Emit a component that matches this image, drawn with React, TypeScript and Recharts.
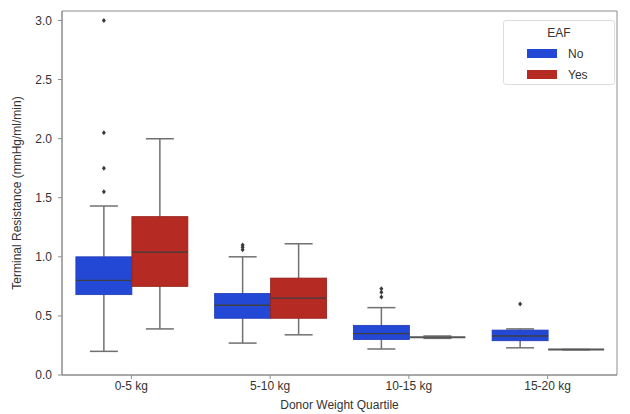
import React from 'react';
import { ComposedChart, Bar, XAxis, YAxis, Legend, ReferenceArea, Label } from 'recharts';

const categories = ['0-5 kg', '5-10 kg', '10-15 kg', '15-20 kg'];

// EAF = No
const noLow = [0.2, 0.27, 0.22, 0.23];
const noQ1 = [0.68, 0.48, 0.3, 0.29];
const noMedian = [0.8, 0.59, 0.35, 0.33];
const noQ3 = [1.0, 0.69, 0.42, 0.38];
const noHigh = [1.43, 1.0, 0.57, 0.39];
const noOutliers = [[3.0, 2.05, 1.75, 1.55], [1.1, 1.08, 1.06], [0.73, 0.7, 0.66], [0.6]];

// EAF = Yes
const yesLow = [0.39, 0.34, 0.31, 0.215];
const yesQ1 = [0.75, 0.48, 0.315, 0.215];
const yesMedian = [1.04, 0.65, 0.32, 0.215];
const yesQ3 = [1.34, 0.82, 0.325, 0.215];
const yesHigh = [2.0, 1.11, 0.33, 0.215];
const yesOutliers: number[][] = [[], [], [], []];

const yTicks = [0, 0.5, 1, 1.5, 2, 2.5, 3];
const yMax = 3.08;

const FONT = '"Liberation Sans", Arial, sans-serif';
const BLUE = '#2448d6';
const RED = '#b52a22';
const WHISKER = '#707070';
const MEDIAN = '#3e3e3e';

const topOf = (high: number[], out: number[][], i: number) => Math.max(high[i], ...out[i]);

const data = categories.map((category, i) => ({
  category,
  noTop: topOf(noHigh, noOutliers, i),
  yesTop: topOf(yesHigh, yesOutliers, i),
}));

// box + whiskers + fliers drawn inside the bar rectangle (bar runs 0..top)
const makeBox =
  (low: number[], q1: number[], med: number[], q3: number[], high: number[], out: number[][], fill: string, edge: string) =>
  (props: any) => {
    const { x, y, width, height, index } = props;
    const top = topOf(high, out, index);
    const yOf = (v: number) => y + height - (v / top) * height;
    const cx = x + width / 2;
    const boxTop = yOf(q3[index]);
    const boxH = yOf(q1[index]) - boxTop;
    const flat = boxH < 2;
    return (
      <g>
        <line x1={cx} x2={cx} y1={yOf(high[index])} y2={boxTop} stroke={WHISKER} strokeWidth={1.5} />
        <line x1={cx} x2={cx} y1={yOf(q1[index])} y2={yOf(low[index])} stroke={WHISKER} strokeWidth={1.5} />
        <line x1={cx - width / 4} x2={cx + width / 4} y1={yOf(high[index])} y2={yOf(high[index])} stroke={WHISKER} strokeWidth={1.5} />
        <line x1={cx - width / 4} x2={cx + width / 4} y1={yOf(low[index])} y2={yOf(low[index])} stroke={WHISKER} strokeWidth={1.5} />
        {!flat && <rect x={x} y={boxTop} width={width} height={boxH} fill={fill} stroke={edge} strokeWidth={0.8} />}
        <line
          x1={x}
          x2={x + width}
          y1={yOf(med[index])}
          y2={yOf(med[index])}
          stroke={flat ? '#555' : MEDIAN}
          strokeWidth={flat ? 2 : 1.3}
        />
        {out[index].map((v, k) => {
          const oy = yOf(v);
          return (
            <path key={k} d={`M${cx},${oy - 2.5}L${cx + 2},${oy}L${cx},${oy + 2.5}L${cx - 2},${oy}Z`} fill="#3a3a3a" />
          );
        })}
      </g>
    );
  };

const NoBox = makeBox(noLow, noQ1, noMedian, noQ3, noHigh, noOutliers, BLUE, '#1d3bb4');
const YesBox = makeBox(yesLow, yesQ1, yesMedian, yesQ3, yesHigh, yesOutliers, RED, '#942018');

const renderLegend = ({ payload }: any) => (
  <div
    style={{
      width: 112,
      height: 65,
      boxSizing: 'border-box',
      border: '1px solid #dedede',
      borderRadius: 3,
      background: '#fff',
      fontFamily: FONT,
      fontSize: 12,
      color: '#333',
      paddingTop: 5,
    }}
  >
    <div style={{ textAlign: 'center', lineHeight: '14px', marginBottom: 3 }}>EAF</div>
    {(payload || []).map((p: any) => (
      <div key={p.value} style={{ display: 'flex', alignItems: 'center', height: 21 }}>
        <span style={{ display: 'inline-block', width: 30, height: 9, background: p.color, marginLeft: 23, marginRight: 11 }} />
        <span>{p.value}</span>
      </div>
    ))}
  </div>
);

const YTitle = (props: any) => {
  const { viewBox } = props;
  const tx = viewBox.x + 17;
  const ty = viewBox.y + viewBox.height / 2;
  return (
    <text x={tx} y={ty} transform={`rotate(-90, ${tx}, ${ty})`} textAnchor="middle" dominantBaseline="central" fontSize={12} fill="#333" fontFamily={FONT}>
      Terminal Resistance (mmHg/ml/min)
    </text>
  );
};

export default function App() {
  return (
    <div style={{ position: 'absolute', left: 0, top: 0, width: 630, height: 414, background: '#fff' }}>
      <ComposedChart
        width={630}
        height={414}
        data={data}
        margin={{ top: 11, right: 13, left: 0, bottom: 0 }}
        barCategoryGap="10%"
        barGap={0}
      >
        <XAxis
          dataKey="category"
          height={39}
          tickSize={4}
          tickMargin={2}
          tick={{ fontSize: 12, fill: '#333', fontFamily: FONT }}
          axisLine={{ stroke: '#8c8c8c' }}
          tickLine={{ stroke: '#8c8c8c' }}
          label={{ value: 'Donor Weight Quartile', position: 'insideBottom', offset: 5, fontSize: 12, fill: '#333', fontFamily: FONT }}
        />
        <YAxis
          width={62}
          domain={[0, yMax]}
          ticks={yTicks}
          allowDataOverflow
          tickFormatter={(v: number) => v.toFixed(1)}
          tickSize={4}
          tickMargin={6}
          tick={{ fontSize: 12, fill: '#333', fontFamily: FONT }}
          axisLine={{ stroke: '#8c8c8c' }}
          tickLine={{ stroke: '#8c8c8c' }}
        >
          <Label content={<YTitle />} />
        </YAxis>
        <ReferenceArea y1={0} y2={yMax} fill="none" stroke="#8c8c8c" strokeWidth={1} ifOverflow="visible" />
        <Bar dataKey="noTop" name="No" fill={BLUE} shape={NoBox} isAnimationActive={false} />
        <Bar dataKey="yesTop" name="Yes" fill={RED} shape={YesBox} isAnimationActive={false} />
        <Legend
          layout="horizontal"
          verticalAlign="middle"
          align="center"
          content={renderLegend}
          wrapperStyle={{ left: 503, top: 20, width: 112, height: 65 }}
        />
      </ComposedChart>
    </div>
  );
}
